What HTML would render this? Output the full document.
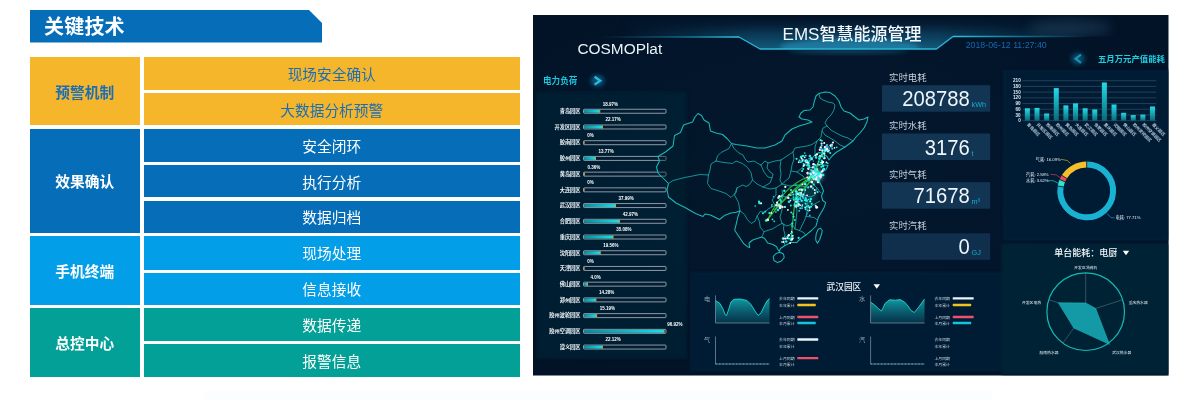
<!DOCTYPE html>
<html lang="zh"><head><meta charset="utf-8"><title>关键技术</title>
<style>
html,body{margin:0;padding:0;background:#fff;}
body{width:1196px;height:400px;position:relative;overflow:hidden;font-family:"Liberation Sans","Noto Sans CJK SC",sans-serif;}
.hd{position:absolute;left:30px;top:10px;width:292px;height:32.5px;background:#066EB8;clip-path:polygon(0 0,279px 0,292px 13px,292px 100%,0 100%);color:#fff;font-weight:700;font-size:20px;line-height:34px;box-sizing:border-box;padding-left:14px;letter-spacing:0.2px}
.c{position:absolute;display:flex;align-items:center;justify-content:center;font-size:14.7px;white-space:nowrap}
.l{left:30px;width:109.5px;font-weight:700}
.r{left:144px;width:375.5px}
.y{background:#F6B62C;color:#1A6EB6}
.b{background:#066EB8;color:#fff}
.s{background:#029EE8;color:#fff}
.g{background:#02A096;color:#fff}
svg{position:absolute;left:533px;top:15px;filter:blur(0.35px)}
</style></head><body>
<div class="hd">关键技术</div>
<div style="position:absolute;left:204px;top:391px;width:788px;height:9px;background:#FCFDFE"></div>

<div class="c l y" style="top:57px;height:68px">预警机制</div>
<div class="c l b" style="top:128.5px;height:104.0px">效果确认</div>
<div class="c l s" style="top:236px;height:69px">手机终端</div>
<div class="c l g" style="top:308px;height:68.5px">总控中心</div>
<div class="c r y" style="top:57px;height:32.5px">现场安全确认</div>
<div class="c r y" style="top:93px;height:32px">大数据分析预警</div>
<div class="c r b" style="top:128.5px;height:33.0px">安全闭环</div>
<div class="c r b" style="top:165px;height:32px">执行分析</div>
<div class="c r b" style="top:200.5px;height:32.0px">数据归档</div>
<div class="c r s" style="top:236px;height:33.5px">现场处理</div>
<div class="c r s" style="top:272.5px;height:32.5px">信息接收</div>
<div class="c r g" style="top:308px;height:32.5px">数据传递</div>
<div class="c r g" style="top:344px;height:32.5px">报警信息</div>
<svg width="635.5" height="360.5" viewBox="533 15 635.5 360.5" font-family="Liberation Sans, Noto Sans CJK SC, sans-serif">
<defs>
<radialGradient id="bgG" cx="0.45" cy="0.45" r="0.75"><stop offset="0" stop-color="#03182E"/><stop offset="1" stop-color="#021226"/></radialGradient>
<linearGradient id="hdG" x1="0" y1="15" x2="0" y2="49" gradientUnits="userSpaceOnUse"><stop offset="0" stop-color="#04182E" stop-opacity="0"/><stop offset="0.5" stop-color="#0A3450"/><stop offset="1" stop-color="#125A7C"/></linearGradient>
<radialGradient id="hdGlow" cx="0.5" cy="1" r="0.6" gradientTransform="translate(0 0) scale(1 1)"><stop offset="0" stop-color="#1E86B0" stop-opacity="0.9"/><stop offset="1" stop-color="#0B3A5C" stop-opacity="0"/></radialGradient>
<linearGradient id="lineL" x1="600" y1="0" x2="739" y2="0" gradientUnits="userSpaceOnUse"><stop offset="0" stop-color="#1AA6C8" stop-opacity="0"/><stop offset="0.55" stop-color="#1AA6C8" stop-opacity="0.5"/><stop offset="1" stop-color="#2CC4E0" stop-opacity="1"/></linearGradient>
<linearGradient id="lineR" x1="953" y1="0" x2="1090" y2="0" gradientUnits="userSpaceOnUse"><stop offset="0" stop-color="#2CC4E0" stop-opacity="1"/><stop offset="0.6" stop-color="#1AA6C8" stop-opacity="0.5"/><stop offset="1" stop-color="#1AA6C8" stop-opacity="0"/></linearGradient>
<linearGradient id="barG" x1="0" y1="0" x2="0" y2="1"><stop offset="0" stop-color="#22DCEA"/><stop offset="1" stop-color="#0A6878"/></linearGradient>
<linearGradient id="fillG" x1="0" y1="0" x2="1" y2="0"><stop offset="0" stop-color="#0E8A9A"/><stop offset="1" stop-color="#16E0EA"/></linearGradient>
<linearGradient id="areaG" x1="0" y1="0" x2="0" y2="1"><stop offset="0" stop-color="#13A4AA" stop-opacity="0.95"/><stop offset="1" stop-color="#0A4E64" stop-opacity="0.5"/></linearGradient>
<linearGradient id="hdMg" x1="620" y1="0" x2="1090" y2="0" gradientUnits="userSpaceOnUse"><stop offset="0" stop-color="#000"/><stop offset="0.28" stop-color="#fff"/><stop offset="0.68" stop-color="#fff"/><stop offset="1" stop-color="#000"/></linearGradient>
<mask id="hdM" maskUnits="userSpaceOnUse" x="533" y="15" width="636" height="40"><rect x="533" y="15" width="636" height="40" fill="url(#hdMg)"/></mask>
<clipPath id="hdC"><path d="M533,15 L1168.5,15 L1168.5,36.5 L953,36.5 L936.5,49 L760,49 L739,37 L533,37 Z"/></clipPath>
<filter id="pb" x="-5%" y="-5%" width="110%" height="110%"><feGaussianBlur stdDeviation="1.6"/></filter>
<filter id="db" x="-5%" y="-5%" width="110%" height="110%"><feGaussianBlur stdDeviation="0.32"/></filter>
<filter id="glow2" x="-50%" y="-100%" width="200%" height="300%"><feGaussianBlur stdDeviation="6"/></filter>
<filter id="glow" x="-50%" y="-50%" width="200%" height="200%"><feGaussianBlur stdDeviation="2.2"/></filter>
<filter id="soft" x="-20%" y="-20%" width="140%" height="140%"><feGaussianBlur stdDeviation="0.5"/></filter>
</defs>
<rect x="533" y="15" width="635.5" height="360.5" fill="url(#bgG)"/>
<path d="M533,15 L1168.5,15 L1168.5,36.5 L953,36.5 L936.5,49 L760,49 L739,37 L533,37 Z" fill="url(#hdG)" mask="url(#hdM)"/>
<ellipse cx="850" cy="47" rx="70" ry="9" fill="#2A9CC8" opacity="0.5" filter="url(#glow)" clip-path="url(#hdC)"/>
<ellipse cx="1070" cy="28" rx="42" ry="9" fill="#3A6A8A" opacity="0.3" filter="url(#glow2)" clip-path="url(#hdC)"/>
<path d="M600,37 L739,37" stroke="url(#lineL)" stroke-width="1.3" fill="none"/>
<path d="M739,37 L760,49 L936.5,49 L953,36.5" stroke="#28B8DA" stroke-width="1.3" fill="none" stroke-linejoin="round"/>
<path d="M800,49 L900,49" stroke="#7FE4F8" stroke-width="1.2" opacity="0.8" filter="url(#soft)"/>
<ellipse cx="848" cy="51.5" rx="60" ry="2.2" fill="#2A9CC8" opacity="0.35" filter="url(#glow)"/>
<path d="M953,36.5 L1090,36.5" stroke="url(#lineR)" stroke-width="1.3" fill="none"/>
<text x="577.5" y="54" font-size="15.4" fill="#EAF2F8">COSMOPlat</text>
<text x="852" y="40" font-size="17" fill="#F2F8FC" text-anchor="middle" font-weight="500">EMS智慧能源管理</text>
<text x="965.7" y="47.5" font-size="8.8" fill="#1668B0">2018-06-12 11:27:40</text>
<rect x="536.5" y="92" width="150" height="266.5" fill="#022036" opacity="0.75" filter="url(#pb)"/>
<text x="543" y="84" font-size="8.6" fill="#19C6DC" font-weight="700">电力负荷</text>
<ellipse cx="597.5" cy="80.7" rx="7" ry="6" fill="#0F78A8" opacity="0.6" filter="url(#glow)"/>
<path d="M594.6,76.8 L600.2,80.7 L594.6,84.6" stroke="#26BEDC" stroke-width="2.3" fill="none" filter="url(#soft)"/>
<text x="580.5" y="113.05" font-size="5.2" fill="#F0F6FA" text-anchor="end" font-weight="700">青岛园区</text>
<rect x="583.5" y="109.25" width="82.5" height="4" rx="0.8" fill="#061C30" stroke="#A8BAC8" stroke-width="0.8"/>
<rect x="584" y="109.75" width="15.65" height="3" fill="url(#fillG)"/>
<rect x="599.35" y="109.65" width="0.9" height="3.2" fill="#E8A020"/>
<text x="602.85" y="105.65" font-size="4.5" fill="#FFFFFF" font-weight="700">18.97%</text>
<text x="580.5" y="128.77" font-size="5.2" fill="#F0F6FA" text-anchor="end" font-weight="700">开发区园区</text>
<rect x="583.5" y="124.97" width="82.5" height="4" rx="0.8" fill="#061C30" stroke="#A8BAC8" stroke-width="0.8"/>
<rect x="584" y="125.47" width="18.29" height="3" fill="url(#fillG)"/>
<rect x="601.99" y="125.37" width="0.9" height="3.2" fill="#E8A020"/>
<text x="605.49" y="121.37" font-size="4.5" fill="#FFFFFF" font-weight="700">22.17%</text>
<text x="580.5" y="144.49" font-size="5.2" fill="#F0F6FA" text-anchor="end" font-weight="700">胶南园区</text>
<rect x="583.5" y="140.69" width="82.5" height="4" rx="0.8" fill="#061C30" stroke="#A8BAC8" stroke-width="0.8"/>
<rect x="583.70" y="141.09" width="0.9" height="3.2" fill="#E8A020"/>
<text x="587.20" y="137.09" font-size="4.5" fill="#FFFFFF" font-weight="700">0%</text>
<text x="580.5" y="160.21" font-size="5.2" fill="#F0F6FA" text-anchor="end" font-weight="700">胶州园区</text>
<rect x="583.5" y="156.41" width="82.5" height="4" rx="0.8" fill="#061C30" stroke="#A8BAC8" stroke-width="0.8"/>
<rect x="584" y="156.91" width="11.36" height="3" fill="url(#fillG)"/>
<rect x="595.06" y="156.81" width="0.9" height="3.2" fill="#E8A020"/>
<text x="598.56" y="152.81" font-size="4.5" fill="#FFFFFF" font-weight="700">13.77%</text>
<text x="580.5" y="175.93" font-size="5.2" fill="#F0F6FA" text-anchor="end" font-weight="700">黄岛园区</text>
<rect x="583.5" y="172.13" width="82.5" height="4" rx="0.8" fill="#061C30" stroke="#A8BAC8" stroke-width="0.8"/>
<rect x="584.00" y="172.53" width="0.9" height="3.2" fill="#E8A020"/>
<text x="587.50" y="168.53" font-size="4.5" fill="#FFFFFF" font-weight="700">0.36%</text>
<text x="580.5" y="191.65" font-size="5.2" fill="#F0F6FA" text-anchor="end" font-weight="700">大连园区</text>
<rect x="583.5" y="187.85" width="82.5" height="4" rx="0.8" fill="#061C30" stroke="#A8BAC8" stroke-width="0.8"/>
<rect x="583.70" y="188.25" width="0.9" height="3.2" fill="#E8A020"/>
<text x="587.20" y="184.25" font-size="4.5" fill="#FFFFFF" font-weight="700">0%</text>
<text x="580.5" y="207.37" font-size="5.2" fill="#F0F6FA" text-anchor="end" font-weight="700">武汉园区</text>
<rect x="583.5" y="203.57" width="82.5" height="4" rx="0.8" fill="#061C30" stroke="#A8BAC8" stroke-width="0.8"/>
<rect x="584" y="204.07" width="31.34" height="3" fill="url(#fillG)"/>
<rect x="615.04" y="203.97" width="0.9" height="3.2" fill="#E8A020"/>
<text x="618.54" y="199.97" font-size="4.5" fill="#FFFFFF" font-weight="700">37.99%</text>
<text x="580.5" y="223.09" font-size="5.2" fill="#F0F6FA" text-anchor="end" font-weight="700">合肥园区</text>
<rect x="583.5" y="219.29" width="82.5" height="4" rx="0.8" fill="#061C30" stroke="#A8BAC8" stroke-width="0.8"/>
<rect x="584" y="219.79" width="35.45" height="3" fill="url(#fillG)"/>
<rect x="619.15" y="219.69" width="0.9" height="3.2" fill="#E8A020"/>
<text x="622.65" y="215.69" font-size="4.5" fill="#FFFFFF" font-weight="700">42.97%</text>
<text x="580.5" y="238.81" font-size="5.2" fill="#F0F6FA" text-anchor="end" font-weight="700">重庆园区</text>
<rect x="583.5" y="235.01" width="82.5" height="4" rx="0.8" fill="#061C30" stroke="#A8BAC8" stroke-width="0.8"/>
<rect x="584" y="235.51" width="28.94" height="3" fill="url(#fillG)"/>
<rect x="612.64" y="235.41" width="0.9" height="3.2" fill="#E8A020"/>
<text x="616.14" y="231.41" font-size="4.5" fill="#FFFFFF" font-weight="700">35.08%</text>
<text x="580.5" y="254.53" font-size="5.2" fill="#F0F6FA" text-anchor="end" font-weight="700">沈阳园区</text>
<rect x="583.5" y="250.73" width="82.5" height="4" rx="0.8" fill="#061C30" stroke="#A8BAC8" stroke-width="0.8"/>
<rect x="584" y="251.23" width="16.14" height="3" fill="url(#fillG)"/>
<rect x="599.84" y="251.13" width="0.9" height="3.2" fill="#E8A020"/>
<text x="603.34" y="247.13" font-size="4.5" fill="#FFFFFF" font-weight="700">19.56%</text>
<text x="580.5" y="270.25" font-size="5.2" fill="#F0F6FA" text-anchor="end" font-weight="700">天津园区</text>
<rect x="583.5" y="266.45" width="82.5" height="4" rx="0.8" fill="#061C30" stroke="#A8BAC8" stroke-width="0.8"/>
<rect x="583.70" y="266.85" width="0.9" height="3.2" fill="#E8A020"/>
<text x="587.20" y="262.85" font-size="4.5" fill="#FFFFFF" font-weight="700">0%</text>
<text x="580.5" y="285.97" font-size="5.2" fill="#F0F6FA" text-anchor="end" font-weight="700">佛山园区</text>
<rect x="583.5" y="282.17" width="82.5" height="4" rx="0.8" fill="#061C30" stroke="#A8BAC8" stroke-width="0.8"/>
<rect x="584" y="282.67" width="3.30" height="3" fill="url(#fillG)"/>
<rect x="587.00" y="282.57" width="0.9" height="3.2" fill="#E8A020"/>
<text x="590.50" y="278.57" font-size="4.5" fill="#FFFFFF" font-weight="700">4.0%</text>
<text x="580.5" y="301.69" font-size="5.2" fill="#F0F6FA" text-anchor="end" font-weight="700">郑州园区</text>
<rect x="583.5" y="297.89" width="82.5" height="4" rx="0.8" fill="#061C30" stroke="#A8BAC8" stroke-width="0.8"/>
<rect x="584" y="298.39" width="11.78" height="3" fill="url(#fillG)"/>
<rect x="595.48" y="298.29" width="0.9" height="3.2" fill="#E8A020"/>
<text x="598.98" y="294.29" font-size="4.5" fill="#FFFFFF" font-weight="700">14.28%</text>
<text x="580.5" y="317.41" font-size="5.2" fill="#F0F6FA" text-anchor="end" font-weight="700">胶州波轮园区</text>
<rect x="583.5" y="313.61" width="82.5" height="4" rx="0.8" fill="#061C30" stroke="#A8BAC8" stroke-width="0.8"/>
<rect x="584" y="314.11" width="12.53" height="3" fill="url(#fillG)"/>
<rect x="596.23" y="314.01" width="0.9" height="3.2" fill="#E8A020"/>
<text x="599.73" y="310.01" font-size="4.5" fill="#FFFFFF" font-weight="700">15.19%</text>
<text x="580.5" y="333.13" font-size="5.2" fill="#F0F6FA" text-anchor="end" font-weight="700">胶州空调园区</text>
<rect x="583.5" y="329.33" width="82.5" height="4" rx="0.8" fill="#061C30" stroke="#A8BAC8" stroke-width="0.8"/>
<rect x="584" y="329.83" width="79.96" height="3" fill="url(#fillG)"/>
<rect x="663.66" y="329.73" width="0.9" height="3.2" fill="#E8A020"/>
<text x="667.16" y="325.73" font-size="4.5" fill="#FFFFFF" font-weight="700">96.92%</text>
<text x="580.5" y="348.85" font-size="5.2" fill="#F0F6FA" text-anchor="end" font-weight="700">遵义园区</text>
<rect x="583.5" y="345.05" width="82.5" height="4" rx="0.8" fill="#061C30" stroke="#A8BAC8" stroke-width="0.8"/>
<rect x="584" y="345.55" width="18.25" height="3" fill="url(#fillG)"/>
<rect x="601.95" y="345.45" width="0.9" height="3.2" fill="#E8A020"/>
<text x="605.45" y="341.45" font-size="4.5" fill="#FFFFFF" font-weight="700">22.12%</text>
<g fill="none" stroke="#1AB8B8" stroke-width="1.05" stroke-linejoin="round" stroke-linecap="round">
<polygon points="698,113.5 701.5,115.5 704,120 709,123 710.5,131 716,133 722.5,134.5 727.5,139 731.5,143.5 736,144.5 747,146 757,148 765,148 775,145 782,141 785,135 792,129 799,126 806,124 812,122 808,120 802,119 799,117 801,113 804,110.6 810,110 813,107 814.4,101 816,96 819,93.4 825,92 830,92.6 835,96 839,101 841,107 844,111 850,113 855,117 859,120 864,119 868,117 867,122 864,128 860,133 856,137 853,141 849,144 845,147 840,150 836,152.5 832,156 829,160 827,156.5 823,153.5 819,152.5 815,155 811,159.5 808,163.5 810,167.5 815,167 821,164.5 828,165.5 826,169.5 821,172.5 818,177 819.5,182 822,187 823.5,191 821.5,196 822.7,200.5 825.7,202.7 824.2,207.2 821.2,212.5 818.2,217.7 817.5,220.7 816,226 811.5,230.5 807,234.2 802.5,237.2 798,241 797,242.5 791,242.5 785,245.5 780.5,248.5 779.3,251.5 777.5,249 776.7,246.7 773,244.5 767.7,243 764.7,238.5 761.7,237 757.2,238.5 752.7,240 749,243 749.7,247.5 747.5,246.7 743.7,243.7 740.7,239.2 737.7,234.7 734.7,230.2 736.2,224.2 737.7,217.5 740,210.7 736.2,212.2 731,213 725,215.2 719.5,219.5 710.5,215 705,214 703,216.5 695.5,213.5 685,207.5 676,203 668.5,197 667,189.5 668.5,183.5 664,179 658,173 656.5,167 659.5,161 658,156.5 665.5,152 673,146 674.5,135.5 680.5,132.5 683.5,125 692.5,122 695,117" fill="#041626" fill-opacity="0.35"/>
<polyline points="731.5,143.5 729,148.5 721,152.5 717.5,156 716,161" stroke-width="0.85" stroke="#18A8AC"/>
<polyline points="716,161 711,164 710,170 708.5,175" stroke-width="0.85" stroke="#18A8AC"/>
<polyline points="708.5,175 700,174.5 685,177.5 673,180.5 668.5,183.5" stroke-width="0.85" stroke="#18A8AC"/>
<polyline points="708.5,175 707.5,183.5 711,188.5 719,191 726,193.5 731,197.5 736,192.5 737,188" stroke-width="0.85" stroke="#18A8AC"/>
<polyline points="737,188 734.5,195 738.5,202.5 740,210.7" stroke-width="0.85" stroke="#18A8AC"/>
<polyline points="716,161 724,162.5 732.5,163.5 736,161 742.5,163.5 747.5,167.5 751,172.5 752.5,180 749,185 746,186.5 742.5,185 737,188" stroke-width="0.85" stroke="#18A8AC"/>
<polyline points="731.5,143.5 734,148.5 739,153 743,155 745,159 748,162 754,161 757,163 761,165" stroke-width="0.85" stroke="#18A8AC"/>
<polyline points="761,165 765,161 768,163 767,168 770,172 773,174 772,178 768,177 764,172 761,165" stroke-width="0.85" stroke="#18A8AC"/>
<polyline points="768,163 775,161 781,160 787,156 793,152 795,148 801,147 807,146 812,144.5 817,141 821,137 822,131 823,128 827,126" stroke-width="0.85" stroke="#18A8AC"/>
<polyline points="819,93.4 820,98 823,100 828,102 833,103 835,105 834,110 831,115 827,119 825,123 827,126" stroke-width="0.85" stroke="#18A8AC"/>
<polyline points="827,126 831,130 836,133 842,136 848,138 853,141" stroke-width="0.85" stroke="#18A8AC"/>
<polyline points="822,131 825,135 830,138 835,141 840,145 845,147" stroke-width="0.85" stroke="#18A8AC"/>
<polyline points="817,141 815,147 815,155" stroke-width="0.85" stroke="#18A8AC"/>
<polyline points="781,160 780,167 781,174 780,180 782,184" stroke-width="0.85" stroke="#18A8AC"/>
<polyline points="793,152 794,159 792,165 791,171 789,178 782,184" stroke-width="0.85" stroke="#18A8AC"/>
<polyline points="811,159.5 806,163 802,168 797,172 791,171" stroke-width="0.85" stroke="#18A8AC"/>
<polyline points="752.5,180 757,184 763,187 770,189 776,188 782,184" stroke-width="0.85" stroke="#18A8AC"/>
<polyline points="772,178 770,183 763,187" stroke-width="0.85" stroke="#18A8AC"/>
<polyline points="782,184 790,186 798,185 806,187" stroke-width="0.85" stroke="#18A8AC"/>
<polyline points="797,172 803,176 806,181 806,187" stroke-width="0.85" stroke="#18A8AC"/>
<polyline points="806,181 812,183 817,188 821,193" stroke-width="0.85" stroke="#18A8AC"/>
<polyline points="776,188 776,195 772,200 775,205 781,203 783,196 782,190" stroke-width="0.85" stroke="#18A8AC"/>
<polyline points="740,210.7 744.5,214.5 747.5,219.7 751.2,223.5 755,221.2 757.2,216 760.2,211.5 765,212.5" stroke-width="0.85" stroke="#18A8AC"/>
<polyline points="765,212.5 768,209 772,207 775,205" stroke-width="0.85" stroke="#18A8AC"/>
<polyline points="757.2,216 759.5,222 760.2,227.2 764,231.7 762.5,235.5 761.7,237" stroke-width="0.85" stroke="#18A8AC"/>
<polyline points="781,203 782,210 780,217 782,223.5" stroke-width="0.85" stroke="#18A8AC"/>
<polyline points="764,231.7 768.5,230.2 773,228.7 777.5,225.7 782,223.5" stroke-width="0.85" stroke="#18A8AC"/>
<polyline points="782,223.5 787,226 792,224 795,229" stroke-width="0.85" stroke="#18A8AC"/>
<polyline points="782,223.5 784,224.5 783.5,229 785,235 783.5,239.5 785,245.5" stroke-width="0.85" stroke="#18A8AC"/>
<polyline points="795,229 796,220 797,211 796,204 798,198" stroke-width="0.85" stroke="#18A8AC"/>
<polyline points="783,196 790,199 798,198" stroke-width="0.85" stroke="#18A8AC"/>
<polyline points="798,198 804,195 806,187" stroke-width="0.85" stroke="#18A8AC"/>
<polyline points="804,195 808,202 806.2,216.2" stroke-width="0.85" stroke="#18A8AC"/>
<polyline points="799.5,230.5 795,229" stroke-width="0.85" stroke="#18A8AC"/>
<polyline points="804,195 810,197 815,195 817,188" stroke-width="0.85" stroke="#18A8AC"/>
<polyline points="817.5,220.5 814.5,217.7 806.2,216.2" stroke-width="0.85" stroke="#18A8AC"/>
<polyline points="806.2,216.2 810,208 813,205 819.7,201.2" stroke-width="0.85" stroke="#18A8AC"/>
<polyline points="806.2,216.2 804,221.5 801,227.5 799.5,230.5" stroke-width="0.85" stroke="#18A8AC"/>
<polyline points="799.5,230.5 804,232.7 805.5,235" stroke-width="0.85" stroke="#18A8AC"/>
<polygon points="820.5,228.2 822.3,230.5 821.7,233.5 819.7,239.5 817.5,243.2 815.9,240.5 815.7,238 816.3,233.5 818.2,229.3"/>
<polygon points="776,253.5 780,252.3 783.5,254 784.2,257.5 781.5,261 777.5,262.6 774,260.5 773.2,256.5"/>
</g>
<circle cx="816" cy="175" r="7" fill="#9FF5F0" opacity="0.55" filter="url(#glow)"/>
<circle cx="805" cy="195" r="12" fill="#22C8C8" opacity="0.18" filter="url(#glow)"/>
<g fill="none" stroke="#2ECC3C" stroke-width="1.25" opacity="0.9">
<path d="M816,175 Q786,180 767.7,219.7"/>
<path d="M816,175 Q794,184 767.7,219.7"/>
<path d="M816,175 Q800,184 774,210"/>
<path d="M816,175 Q804,188 795,200 L791,239"/>
<path d="M816,175 Q816,160 826,150"/>
</g>
<g filter="url(#db)">
<circle cx="811.6" cy="176.3" r="1.1" fill="#FFFFFF"/>
<circle cx="811.2" cy="174.8" r="0.9" fill="#FFFFFF"/>
<circle cx="811.1" cy="175.7" r="0.9" fill="#22F0E2"/>
<circle cx="814.1" cy="175.6" r="1.25" fill="#8CF6E6"/>
<circle cx="812.8" cy="171.6" r="1.1" fill="#FFFFFF"/>
<circle cx="813.2" cy="171.1" r="0.9" fill="#F4E6F0"/>
<circle cx="820.4" cy="175.4" r="0.8" fill="#22F0E2"/>
<circle cx="817.0" cy="177.4" r="0.8" fill="#FFFFFF"/>
<circle cx="813.8" cy="179.0" r="0.9" fill="#FFFFFF"/>
<circle cx="816.3" cy="177.8" r="0.8" fill="#3D9BFF"/>
<circle cx="820.5" cy="177.5" r="1.1" fill="#FFFFFF"/>
<circle cx="822.9" cy="174.8" r="1.0" fill="#22F0E2"/>
<circle cx="816.2" cy="170.9" r="0.8" fill="#22F0E2"/>
<circle cx="814.4" cy="174.4" r="0.8" fill="#22F0E2"/>
<circle cx="809.1" cy="180.6" r="0.8" fill="#22F0E2"/>
<circle cx="818.0" cy="182.2" r="1.1" fill="#FFFFFF"/>
<circle cx="819.6" cy="174.6" r="0.8" fill="#F4E6F0"/>
<circle cx="811.7" cy="170.7" r="1.0" fill="#22F0E2"/>
<circle cx="818.8" cy="176.6" r="1.1" fill="#22F0E2"/>
<circle cx="819.7" cy="179.0" r="0.8" fill="#22F0E2"/>
<circle cx="811.9" cy="175.9" r="1.25" fill="#22F0E2"/>
<circle cx="813.8" cy="175.7" r="0.9" fill="#FFFFFF"/>
<circle cx="814.9" cy="173.7" r="1.1" fill="#22F0E2"/>
<circle cx="823.2" cy="175.0" r="1.25" fill="#22F0E2"/>
<circle cx="816.7" cy="175.0" r="0.9" fill="#FFFFFF"/>
<circle cx="820.9" cy="174.9" r="1.25" fill="#22F0E2"/>
<circle cx="818.0" cy="175.5" r="1.1" fill="#22F0E2"/>
<circle cx="820.9" cy="175.3" r="1.0" fill="#FFFFFF"/>
<circle cx="817.4" cy="175.7" r="1.25" fill="#3D9BFF"/>
<circle cx="816.2" cy="179.6" r="1.0" fill="#F4E6F0"/>
<circle cx="807.3" cy="177.5" r="1.1" fill="#F4E6F0"/>
<circle cx="818.3" cy="177.5" r="0.9" fill="#22F0E2"/>
<circle cx="821.6" cy="171.6" r="0.9" fill="#8CF6E6"/>
<circle cx="818.2" cy="180.2" r="1.25" fill="#22F0E2"/>
<circle cx="814.6" cy="171.9" r="1.1" fill="#F4E6F0"/>
<circle cx="817.0" cy="175.5" r="0.8" fill="#22F0E2"/>
<circle cx="813.2" cy="174.8" r="1.1" fill="#22F0E2"/>
<circle cx="809.1" cy="178.5" r="1.1" fill="#22F0E2"/>
<circle cx="807.8" cy="174.0" r="0.8" fill="#22F0E2"/>
<circle cx="816.6" cy="179.3" r="1.25" fill="#F4E6F0"/>
<circle cx="818.2" cy="176.1" r="0.9" fill="#8CF6E6"/>
<circle cx="818.8" cy="175.3" r="1.1" fill="#22F0E2"/>
<circle cx="818.1" cy="175.8" r="1.0" fill="#FFFFFF"/>
<circle cx="814.3" cy="174.2" r="1.0" fill="#22F0E2"/>
<circle cx="823.8" cy="169.0" r="1.25" fill="#F4E6F0"/>
<circle cx="820.5" cy="173.5" r="0.8" fill="#FFFFFF"/>
<circle cx="820.7" cy="172.2" r="0.8" fill="#22F0E2"/>
<circle cx="814.8" cy="174.2" r="0.8" fill="#8CF6E6"/>
<circle cx="815.3" cy="176.7" r="0.8" fill="#22F0E2"/>
<circle cx="812.7" cy="175.9" r="0.8" fill="#8CF6E6"/>
<circle cx="815.8" cy="173.2" r="1.0" fill="#22F0E2"/>
<circle cx="819.5" cy="177.0" r="0.8" fill="#FFFFFF"/>
<circle cx="816.8" cy="174.7" r="1.1" fill="#F4E6F0"/>
<circle cx="821.3" cy="175.5" r="1.1" fill="#F4E6F0"/>
<circle cx="817.4" cy="175.1" r="0.8" fill="#3D9BFF"/>
<circle cx="818.1" cy="176.7" r="1.1" fill="#8CF6E6"/>
<circle cx="811.9" cy="181.9" r="1.25" fill="#FFFFFF"/>
<circle cx="809.6" cy="177.4" r="0.8" fill="#FFFFFF"/>
<circle cx="816.0" cy="174.2" r="1.25" fill="#22F0E2"/>
<circle cx="813.4" cy="175.3" r="0.8" fill="#FFFFFF"/>
<circle cx="817.0" cy="170.1" r="1.1" fill="#22F0E2"/>
<circle cx="818.7" cy="173.0" r="0.9" fill="#3D9BFF"/>
<circle cx="812.7" cy="172.3" r="1.0" fill="#3D9BFF"/>
<circle cx="819.8" cy="173.3" r="0.9" fill="#22F0E2"/>
<circle cx="813.7" cy="176.5" r="1.1" fill="#22F0E2"/>
<circle cx="818.6" cy="172.7" r="1.25" fill="#22F0E2"/>
<circle cx="816.5" cy="176.8" r="1.0" fill="#22F0E2"/>
<circle cx="813.9" cy="166.9" r="1.0" fill="#22F0E2"/>
<circle cx="819.1" cy="177.5" r="0.9" fill="#FFFFFF"/>
<circle cx="812.8" cy="177.8" r="1.0" fill="#8CF6E6"/>
<circle cx="821.4" cy="166.8" r="1.1" fill="#22F0E2"/>
<circle cx="816.8" cy="175.4" r="1.25" fill="#22F0E2"/>
<circle cx="814.7" cy="172.5" r="1.0" fill="#22F0E2"/>
<circle cx="813.3" cy="171.5" r="0.9" fill="#FFFFFF"/>
<circle cx="815.2" cy="175.2" r="1.0" fill="#22F0E2"/>
<circle cx="817.2" cy="169.0" r="0.8" fill="#FFFFFF"/>
<circle cx="819.5" cy="177.7" r="1.0" fill="#22F0E2"/>
<circle cx="815.0" cy="172.9" r="1.1" fill="#22F0E2"/>
<circle cx="816.2" cy="175.5" r="1.1" fill="#FFFFFF"/>
<circle cx="815.5" cy="172.9" r="1.0" fill="#22F0E2"/>
<circle cx="807.5" cy="173.0" r="1.25" fill="#F4E6F0"/>
<circle cx="818.1" cy="175.0" r="0.9" fill="#22F0E2"/>
<circle cx="809.6" cy="178.8" r="1.1" fill="#22F0E2"/>
<circle cx="813.7" cy="175.7" r="0.8" fill="#FFFFFF"/>
<circle cx="811.0" cy="173.5" r="1.25" fill="#22F0E2"/>
<circle cx="810.9" cy="176.1" r="0.9" fill="#22F0E2"/>
<circle cx="814.8" cy="168.8" r="0.8" fill="#22F0E2"/>
<circle cx="816.2" cy="178.4" r="0.8" fill="#22F0E2"/>
<circle cx="809.8" cy="173.6" r="1.0" fill="#22F0E2"/>
<circle cx="822.0" cy="171.4" r="1.0" fill="#FFFFFF"/>
<circle cx="819.4" cy="176.8" r="1.25" fill="#FFFFFF"/>
<circle cx="816.5" cy="171.1" r="0.8" fill="#22F0E2"/>
<circle cx="816.5" cy="173.8" r="0.8" fill="#22F0E2"/>
<circle cx="810.6" cy="173.9" r="0.9" fill="#FFFFFF"/>
<circle cx="818.6" cy="178.3" r="1.25" fill="#3D9BFF"/>
<circle cx="812.8" cy="167.4" r="1.1" fill="#F4E6F0"/>
<circle cx="817.4" cy="174.5" r="0.9" fill="#FFFFFF"/>
<circle cx="813.1" cy="174.5" r="1.25" fill="#3D9BFF"/>
<circle cx="818.2" cy="178.5" r="1.25" fill="#22F0E2"/>
<circle cx="814.7" cy="178.1" r="1.25" fill="#22F0E2"/>
<circle cx="815.3" cy="176.8" r="1.25" fill="#FFFFFF"/>
<circle cx="815.4" cy="178.9" r="1.1" fill="#FFFFFF"/>
<circle cx="816.3" cy="175.2" r="1.1" fill="#22F0E2"/>
<circle cx="815.0" cy="174.8" r="1.1" fill="#FFFFFF"/>
<circle cx="817.5" cy="170.8" r="1.1" fill="#22F0E2"/>
<circle cx="815.5" cy="173.8" r="1.25" fill="#FFFFFF"/>
<circle cx="808.3" cy="179.4" r="1.1" fill="#22F0E2"/>
<circle cx="816.1" cy="179.0" r="1.0" fill="#FFFFFF"/>
<circle cx="822.9" cy="170.4" r="1.1" fill="#FFFFFF"/>
<circle cx="815.0" cy="177.0" r="1.25" fill="#22F0E2"/>
<circle cx="817.7" cy="174.2" r="0.8" fill="#22F0E2"/>
<circle cx="816.9" cy="177.3" r="1.0" fill="#22F0E2"/>
<circle cx="815.6" cy="172.5" r="1.1" fill="#22F0E2"/>
<circle cx="811.2" cy="175.0" r="1.25" fill="#F4E6F0"/>
<circle cx="816.0" cy="177.3" r="1.25" fill="#FFFFFF"/>
<circle cx="821.0" cy="175.7" r="1.25" fill="#F4E6F0"/>
<circle cx="817.3" cy="176.9" r="1.25" fill="#3D9BFF"/>
<circle cx="816.5" cy="177.3" r="1.25" fill="#F4E6F0"/>
<circle cx="814.3" cy="174.0" r="1.0" fill="#22F0E2"/>
<circle cx="814.7" cy="177.7" r="0.9" fill="#22F0E2"/>
<circle cx="826.5" cy="145.7" r="0.8" fill="#22F0E2"/>
<circle cx="827.8" cy="146.8" r="0.8" fill="#22F0E2"/>
<circle cx="822.3" cy="150.5" r="1.1" fill="#FFFFFF"/>
<circle cx="826.6" cy="146.2" r="1.1" fill="#3D9BFF"/>
<circle cx="825.7" cy="147.4" r="0.9" fill="#F4E6F0"/>
<circle cx="821.9" cy="140.8" r="1.0" fill="#22F0E2"/>
<circle cx="824.2" cy="143.1" r="1.0" fill="#FFFFFF"/>
<circle cx="834.5" cy="147.9" r="0.8" fill="#FFFFFF"/>
<circle cx="827.0" cy="148.6" r="1.25" fill="#F4E6F0"/>
<circle cx="820.2" cy="147.6" r="0.9" fill="#22F0E2"/>
<circle cx="827.2" cy="150.2" r="0.9" fill="#22F0E2"/>
<circle cx="827.8" cy="147.3" r="0.8" fill="#22F0E2"/>
<circle cx="830.8" cy="146.8" r="0.8" fill="#22F0E2"/>
<circle cx="822.3" cy="150.4" r="1.0" fill="#FFFFFF"/>
<circle cx="827.1" cy="151.4" r="0.8" fill="#22F0E2"/>
<circle cx="828.1" cy="151.6" r="1.0" fill="#FFFFFF"/>
<circle cx="831.4" cy="145.7" r="0.8" fill="#FFFFFF"/>
<circle cx="827.0" cy="144.9" r="0.8" fill="#8CF6E6"/>
<circle cx="833.0" cy="142.5" r="1.1" fill="#F4E6F0"/>
<circle cx="821.7" cy="145.5" r="1.0" fill="#22F0E2"/>
<circle cx="825.6" cy="149.8" r="0.9" fill="#FFFFFF"/>
<circle cx="828.7" cy="150.4" r="1.25" fill="#8CF6E6"/>
<circle cx="822.7" cy="150.8" r="0.9" fill="#FFFFFF"/>
<circle cx="826.8" cy="150.2" r="1.0" fill="#22F0E2"/>
<circle cx="825.4" cy="148.1" r="1.0" fill="#3D9BFF"/>
<circle cx="827.2" cy="147.3" r="1.0" fill="#3D9BFF"/>
<circle cx="825.1" cy="150.4" r="1.1" fill="#F4E6F0"/>
<circle cx="826.7" cy="149.3" r="1.25" fill="#FFFFFF"/>
<circle cx="821.6" cy="143.6" r="1.1" fill="#F4E6F0"/>
<circle cx="832.2" cy="148.7" r="0.9" fill="#22F0E2"/>
<circle cx="821.0" cy="149.5" r="0.9" fill="#3D9BFF"/>
<circle cx="824.5" cy="149.2" r="1.0" fill="#22F0E2"/>
<circle cx="830.7" cy="145.5" r="1.25" fill="#FFFFFF"/>
<circle cx="831.7" cy="147.0" r="0.8" fill="#3D9BFF"/>
<circle cx="819.9" cy="149.8" r="1.25" fill="#F4E6F0"/>
<circle cx="820.5" cy="140.2" r="1.1" fill="#22F0E2"/>
<circle cx="817.0" cy="154.3" r="1.1" fill="#FFFFFF"/>
<circle cx="824.8" cy="147.2" r="1.1" fill="#FFFFFF"/>
<circle cx="825.0" cy="151.5" r="1.0" fill="#22F0E2"/>
<circle cx="820.9" cy="147.2" r="1.0" fill="#FFFFFF"/>
<circle cx="832.0" cy="145.7" r="1.0" fill="#22F0E2"/>
<circle cx="829.4" cy="148.2" r="0.8" fill="#3D9BFF"/>
<circle cx="830.2" cy="153.0" r="1.1" fill="#22F0E2"/>
<circle cx="832.0" cy="144.4" r="0.8" fill="#F4E6F0"/>
<circle cx="836.8" cy="147.4" r="0.8" fill="#22F0E2"/>
<circle cx="801.3" cy="161.8" r="0.9" fill="#22F0E2"/>
<circle cx="796.6" cy="158.8" r="1.1" fill="#22F0E2"/>
<circle cx="811.6" cy="159.1" r="1.25" fill="#8CF6E6"/>
<circle cx="808.8" cy="163.3" r="1.1" fill="#22F0E2"/>
<circle cx="805.3" cy="161.1" r="1.25" fill="#22F0E2"/>
<circle cx="807.8" cy="162.7" r="1.1" fill="#FFFFFF"/>
<circle cx="800.9" cy="156.9" r="1.1" fill="#22F0E2"/>
<circle cx="805.8" cy="155.6" r="0.9" fill="#22F0E2"/>
<circle cx="804.7" cy="157.4" r="0.8" fill="#FFFFFF"/>
<circle cx="809.9" cy="156.1" r="1.25" fill="#22F0E2"/>
<circle cx="804.2" cy="164.9" r="1.25" fill="#8CF6E6"/>
<circle cx="800.7" cy="157.2" r="0.9" fill="#22F0E2"/>
<circle cx="809.1" cy="158.7" r="0.9" fill="#3D9BFF"/>
<circle cx="806.2" cy="160.3" r="1.0" fill="#22F0E2"/>
<circle cx="800.5" cy="162.3" r="0.8" fill="#22F0E2"/>
<circle cx="803.7" cy="159.6" r="0.8" fill="#3D9BFF"/>
<circle cx="806.4" cy="162.2" r="1.0" fill="#FFFFFF"/>
<circle cx="802.5" cy="160.3" r="1.0" fill="#FFFFFF"/>
<circle cx="804.8" cy="153.1" r="0.8" fill="#22F0E2"/>
<circle cx="798.7" cy="162.2" r="0.9" fill="#FFFFFF"/>
<circle cx="802.5" cy="161.3" r="0.9" fill="#22F0E2"/>
<circle cx="808.9" cy="165.6" r="1.25" fill="#22F0E2"/>
<circle cx="803.5" cy="165.9" r="0.9" fill="#FFFFFF"/>
<circle cx="802.3" cy="156.1" r="1.1" fill="#22F0E2"/>
<circle cx="806.3" cy="160.7" r="1.25" fill="#F4E6F0"/>
<circle cx="799.6" cy="160.5" r="1.0" fill="#22F0E2"/>
<circle cx="807.2" cy="161.1" r="1.25" fill="#22F0E2"/>
<circle cx="803.6" cy="156.0" r="1.0" fill="#22F0E2"/>
<circle cx="823.9" cy="158.3" r="1.0" fill="#22F0E2"/>
<circle cx="824.6" cy="158.2" r="1.1" fill="#F4E6F0"/>
<circle cx="815.6" cy="155.6" r="1.0" fill="#FFFFFF"/>
<circle cx="811.0" cy="157.9" r="1.1" fill="#22F0E2"/>
<circle cx="823.7" cy="169.3" r="1.25" fill="#22F0E2"/>
<circle cx="827.8" cy="163.4" r="0.8" fill="#22F0E2"/>
<circle cx="819.9" cy="155.7" r="0.9" fill="#8CF6E6"/>
<circle cx="816.1" cy="157.5" r="1.25" fill="#22F0E2"/>
<circle cx="824.4" cy="156.0" r="0.9" fill="#22F0E2"/>
<circle cx="822.4" cy="152.6" r="1.0" fill="#22F0E2"/>
<circle cx="822.2" cy="161.2" r="0.9" fill="#F4E6F0"/>
<circle cx="821.8" cy="160.7" r="1.1" fill="#22F0E2"/>
<circle cx="819.3" cy="158.5" r="1.25" fill="#22F0E2"/>
<circle cx="820.5" cy="162.5" r="0.8" fill="#22F0E2"/>
<circle cx="826.4" cy="162.6" r="0.9" fill="#22F0E2"/>
<circle cx="821.9" cy="154.8" r="0.9" fill="#8CF6E6"/>
<circle cx="823.1" cy="166.0" r="1.25" fill="#22F0E2"/>
<circle cx="822.3" cy="156.4" r="1.0" fill="#22F0E2"/>
<circle cx="820.0" cy="156.3" r="1.25" fill="#8CF6E6"/>
<circle cx="826.5" cy="162.2" r="0.8" fill="#FFFFFF"/>
<circle cx="822.5" cy="149.5" r="1.0" fill="#22F0E2"/>
<circle cx="824.3" cy="153.6" r="1.1" fill="#FFFFFF"/>
<circle cx="819.2" cy="156.6" r="0.8" fill="#22F0E2"/>
<circle cx="818.7" cy="161.8" r="0.9" fill="#22F0E2"/>
<circle cx="821.4" cy="149.0" r="1.1" fill="#3D9BFF"/>
<circle cx="823.2" cy="162.1" r="1.1" fill="#FFFFFF"/>
<circle cx="808.5" cy="178.2" r="0.8" fill="#FFFFFF"/>
<circle cx="811.1" cy="169.8" r="0.9" fill="#22F0E2"/>
<circle cx="819.1" cy="164.5" r="0.8" fill="#F4E6F0"/>
<circle cx="803.1" cy="168.9" r="1.0" fill="#22F0E2"/>
<circle cx="813.5" cy="171.6" r="1.25" fill="#22F0E2"/>
<circle cx="807.4" cy="165.3" r="1.25" fill="#22F0E2"/>
<circle cx="802.1" cy="171.0" r="1.1" fill="#22F0E2"/>
<circle cx="822.0" cy="163.0" r="1.25" fill="#FFFFFF"/>
<circle cx="808.1" cy="168.4" r="1.1" fill="#22F0E2"/>
<circle cx="807.4" cy="162.2" r="0.8" fill="#FFFFFF"/>
<circle cx="815.3" cy="164.9" r="0.9" fill="#22F0E2"/>
<circle cx="813.6" cy="164.3" r="1.25" fill="#FFFFFF"/>
<circle cx="813.3" cy="161.0" r="0.8" fill="#3D9BFF"/>
<circle cx="821.4" cy="164.1" r="1.1" fill="#22F0E2"/>
<circle cx="808.4" cy="168.9" r="1.1" fill="#F4E6F0"/>
<circle cx="815.7" cy="165.1" r="1.0" fill="#22F0E2"/>
<circle cx="811.4" cy="176.1" r="1.25" fill="#22F0E2"/>
<circle cx="801.7" cy="158.4" r="1.0" fill="#FFFFFF"/>
<circle cx="809.2" cy="167.5" r="0.9" fill="#22F0E2"/>
<circle cx="815.2" cy="176.5" r="0.9" fill="#22F0E2"/>
<circle cx="815.4" cy="169.6" r="1.25" fill="#22F0E2"/>
<circle cx="817.9" cy="164.1" r="0.8" fill="#8CF6E6"/>
<circle cx="803.6" cy="163.9" r="1.0" fill="#22F0E2"/>
<circle cx="813.3" cy="164.0" r="0.8" fill="#FFFFFF"/>
<circle cx="813.6" cy="172.8" r="1.25" fill="#FFFFFF"/>
<circle cx="805.7" cy="209.3" r="1.0" fill="#22F0E2"/>
<circle cx="799.2" cy="204.5" r="1.0" fill="#FFFFFF"/>
<circle cx="799.0" cy="201.7" r="0.8" fill="#3D9BFF"/>
<circle cx="805.2" cy="207.6" r="1.1" fill="#8CF6E6"/>
<circle cx="810.1" cy="201.4" r="1.1" fill="#22F0E2"/>
<circle cx="805.7" cy="198.2" r="1.1" fill="#22F0E2"/>
<circle cx="799.3" cy="204.9" r="0.8" fill="#8CF6E6"/>
<circle cx="802.0" cy="208.3" r="1.0" fill="#3D9BFF"/>
<circle cx="795.1" cy="206.5" r="1.0" fill="#22F0E2"/>
<circle cx="800.2" cy="197.9" r="0.8" fill="#22F0E2"/>
<circle cx="802.0" cy="206.6" r="0.8" fill="#22F0E2"/>
<circle cx="798.4" cy="206.0" r="1.1" fill="#8CF6E6"/>
<circle cx="796.2" cy="199.6" r="1.1" fill="#22F0E2"/>
<circle cx="806.2" cy="206.3" r="0.9" fill="#3D9BFF"/>
<circle cx="797.6" cy="201.2" r="0.9" fill="#FFFFFF"/>
<circle cx="806.0" cy="204.0" r="0.8" fill="#22F0E2"/>
<circle cx="800.5" cy="205.3" r="0.8" fill="#FFFFFF"/>
<circle cx="798.2" cy="203.9" r="1.1" fill="#FFFFFF"/>
<circle cx="802.4" cy="205.1" r="0.9" fill="#8CF6E6"/>
<circle cx="796.3" cy="205.4" r="1.1" fill="#F4E6F0"/>
<circle cx="805.5" cy="203.4" r="1.0" fill="#22F0E2"/>
<circle cx="796.0" cy="198.4" r="0.8" fill="#22F0E2"/>
<circle cx="797.5" cy="206.2" r="1.1" fill="#22F0E2"/>
<circle cx="796.5" cy="202.0" r="1.0" fill="#22F0E2"/>
<circle cx="803.4" cy="198.1" r="0.9" fill="#22F0E2"/>
<circle cx="801.2" cy="194.4" r="1.25" fill="#22F0E2"/>
<circle cx="796.1" cy="206.8" r="0.9" fill="#F4E6F0"/>
<circle cx="796.3" cy="191.5" r="1.25" fill="#8CF6E6"/>
<circle cx="796.5" cy="194.0" r="1.25" fill="#22F0E2"/>
<circle cx="797.5" cy="201.1" r="0.8" fill="#22F0E2"/>
<circle cx="800.2" cy="208.2" r="1.0" fill="#22F0E2"/>
<circle cx="809.4" cy="207.4" r="1.0" fill="#FFFFFF"/>
<circle cx="804.5" cy="200.1" r="0.9" fill="#22F0E2"/>
<circle cx="805.7" cy="200.2" r="1.25" fill="#22F0E2"/>
<circle cx="796.0" cy="201.8" r="1.0" fill="#F4E6F0"/>
<circle cx="807.8" cy="210.4" r="0.8" fill="#22F0E2"/>
<circle cx="797.9" cy="199.5" r="1.25" fill="#22F0E2"/>
<circle cx="801.7" cy="200.8" r="1.25" fill="#22F0E2"/>
<circle cx="794.6" cy="204.2" r="0.9" fill="#22F0E2"/>
<circle cx="800.4" cy="195.3" r="1.1" fill="#F4E6F0"/>
<circle cx="795.9" cy="185.1" r="0.8" fill="#22F0E2"/>
<circle cx="807.1" cy="195.3" r="0.9" fill="#FFFFFF"/>
<circle cx="799.1" cy="194.3" r="0.9" fill="#22F0E2"/>
<circle cx="800.3" cy="189.5" r="1.25" fill="#22F0E2"/>
<circle cx="814.9" cy="192.9" r="0.9" fill="#FFFFFF"/>
<circle cx="812.9" cy="188.3" r="1.1" fill="#22F0E2"/>
<circle cx="797.9" cy="193.7" r="1.25" fill="#FFFFFF"/>
<circle cx="805.1" cy="184.2" r="1.1" fill="#8CF6E6"/>
<circle cx="799.6" cy="192.9" r="1.25" fill="#22F0E2"/>
<circle cx="811.1" cy="186.6" r="1.25" fill="#FFFFFF"/>
<circle cx="793.2" cy="194.5" r="1.0" fill="#22F0E2"/>
<circle cx="802.6" cy="196.6" r="1.1" fill="#8CF6E6"/>
<circle cx="801.2" cy="193.1" r="1.0" fill="#F4E6F0"/>
<circle cx="808.2" cy="187.4" r="1.1" fill="#22F0E2"/>
<circle cx="799.0" cy="189.9" r="0.8" fill="#FFFFFF"/>
<circle cx="802.5" cy="184.3" r="0.9" fill="#FFFFFF"/>
<circle cx="802.9" cy="194.7" r="0.9" fill="#22F0E2"/>
<circle cx="814.7" cy="190.0" r="1.0" fill="#FFFFFF"/>
<circle cx="795.4" cy="194.3" r="0.9" fill="#3D9BFF"/>
<circle cx="804.8" cy="183.5" r="0.8" fill="#22F0E2"/>
<circle cx="801.9" cy="189.7" r="1.25" fill="#F4E6F0"/>
<circle cx="805.2" cy="189.9" r="0.9" fill="#8CF6E6"/>
<circle cx="803.4" cy="194.2" r="0.8" fill="#FFFFFF"/>
<circle cx="813.7" cy="184.4" r="1.1" fill="#22F0E2"/>
<circle cx="800.1" cy="195.2" r="0.8" fill="#22F0E2"/>
<circle cx="817.6" cy="192.1" r="1.0" fill="#22F0E2"/>
<circle cx="791.0" cy="190.1" r="1.1" fill="#22F0E2"/>
<circle cx="808.5" cy="199.5" r="0.8" fill="#22F0E2"/>
<circle cx="800.2" cy="199.1" r="1.1" fill="#22F0E2"/>
<circle cx="810.8" cy="199.1" r="1.25" fill="#22F0E2"/>
<circle cx="785.7" cy="197.2" r="0.8" fill="#3D9BFF"/>
<circle cx="797.6" cy="203.0" r="1.0" fill="#22F0E2"/>
<circle cx="796.5" cy="192.2" r="0.9" fill="#22F0E2"/>
<circle cx="785.3" cy="186.9" r="1.1" fill="#FFFFFF"/>
<circle cx="793.8" cy="199.7" r="1.0" fill="#22F0E2"/>
<circle cx="789.0" cy="194.8" r="0.9" fill="#8CF6E6"/>
<circle cx="790.8" cy="205.4" r="1.0" fill="#22F0E2"/>
<circle cx="792.4" cy="192.2" r="0.8" fill="#F4E6F0"/>
<circle cx="773.6" cy="196.6" r="0.9" fill="#3D9BFF"/>
<circle cx="790.5" cy="200.6" r="0.8" fill="#FFFFFF"/>
<circle cx="796.4" cy="197.4" r="1.25" fill="#22F0E2"/>
<circle cx="788.2" cy="197.7" r="1.25" fill="#F4E6F0"/>
<circle cx="789.0" cy="201.7" r="1.25" fill="#22F0E2"/>
<circle cx="799.2" cy="210.8" r="0.9" fill="#22F0E2"/>
<circle cx="794.2" cy="205.3" r="0.8" fill="#22F0E2"/>
<circle cx="790.9" cy="195.2" r="0.8" fill="#F4E6F0"/>
<circle cx="780.3" cy="200.0" r="1.1" fill="#22F0E2"/>
<circle cx="796.4" cy="195.5" r="0.9" fill="#22F0E2"/>
<circle cx="781.9" cy="195.5" r="1.0" fill="#22F0E2"/>
<circle cx="784.3" cy="190.7" r="1.25" fill="#22F0E2"/>
<circle cx="778.4" cy="197.7" r="1.25" fill="#8CF6E6"/>
<circle cx="793.5" cy="197.1" r="0.9" fill="#22F0E2"/>
<circle cx="777.1" cy="202.7" r="1.1" fill="#FFFFFF"/>
<circle cx="781.3" cy="196.3" r="0.9" fill="#22F0E2"/>
<circle cx="776.5" cy="205.2" r="1.25" fill="#F4E6F0"/>
<circle cx="778.7" cy="205.0" r="1.25" fill="#8CF6E6"/>
<circle cx="785.2" cy="206.8" r="0.9" fill="#22F0E2"/>
<circle cx="780.5" cy="205.8" r="1.1" fill="#FFFFFF"/>
<circle cx="772.0" cy="204.8" r="0.8" fill="#22F0E2"/>
<circle cx="782.4" cy="207.1" r="1.25" fill="#F4E6F0"/>
<circle cx="781.0" cy="201.4" r="0.9" fill="#22F0E2"/>
<circle cx="779.5" cy="206.4" r="1.0" fill="#F4E6F0"/>
<circle cx="779.4" cy="196.3" r="1.25" fill="#FFFFFF"/>
<circle cx="787.9" cy="209.9" r="0.9" fill="#FFFFFF"/>
<circle cx="779.9" cy="207.9" r="1.25" fill="#FFFFFF"/>
<circle cx="784.8" cy="206.9" r="1.0" fill="#8CF6E6"/>
<circle cx="774.2" cy="221.4" r="0.8" fill="#22F0E2"/>
<circle cx="765.2" cy="211.4" r="0.9" fill="#22F0E2"/>
<circle cx="771.8" cy="206.1" r="0.8" fill="#22F0E2"/>
<circle cx="772.5" cy="219.4" r="0.9" fill="#22F0E2"/>
<circle cx="769.4" cy="213.1" r="1.1" fill="#22F0E2"/>
<circle cx="777.9" cy="209.9" r="1.25" fill="#22F0E2"/>
<circle cx="771.4" cy="212.9" r="0.9" fill="#FFFFFF"/>
<circle cx="763.0" cy="213.2" r="1.0" fill="#22F0E2"/>
<circle cx="766.1" cy="220.6" r="1.25" fill="#22F0E2"/>
<circle cx="775.9" cy="212.0" r="0.8" fill="#8CF6E6"/>
<circle cx="786.2" cy="241.6" r="1.25" fill="#22F0E2"/>
<circle cx="785.6" cy="238.7" r="0.9" fill="#FFFFFF"/>
<circle cx="789.0" cy="238.6" r="1.1" fill="#22F0E2"/>
<circle cx="790.2" cy="243.0" r="0.9" fill="#FFFFFF"/>
<circle cx="790.9" cy="239.9" r="1.1" fill="#22F0E2"/>
<circle cx="784.9" cy="238.6" r="0.9" fill="#FFFFFF"/>
<circle cx="791.2" cy="240.6" r="0.8" fill="#22F0E2"/>
<circle cx="788.5" cy="235.5" r="1.0" fill="#F4E6F0"/>
<circle cx="792.8" cy="238.2" r="1.0" fill="#FFFFFF"/>
<circle cx="782.0" cy="242.0" r="0.9" fill="#22F0E2"/>
<circle cx="791.2" cy="238.6" r="1.0" fill="#22F0E2"/>
<circle cx="790.7" cy="233.5" r="0.8" fill="#22F0E2"/>
<circle cx="798.6" cy="237.9" r="1.1" fill="#22F0E2"/>
<circle cx="792.7" cy="235.8" r="1.0" fill="#FFFFFF"/>
<circle cx="788.1" cy="235.9" r="1.25" fill="#22F0E2"/>
<circle cx="787.1" cy="238.1" r="1.25" fill="#F4E6F0"/>
<circle cx="792.1" cy="239.4" r="1.1" fill="#FFFFFF"/>
<circle cx="783.1" cy="238.6" r="1.25" fill="#8CF6E6"/>
<circle cx="786.3" cy="237.3" r="1.1" fill="#3D9BFF"/>
<circle cx="783.4" cy="242.0" r="1.0" fill="#FFFFFF"/>
<circle cx="788.9" cy="235.2" r="1.1" fill="#FFFFFF"/>
<circle cx="792.1" cy="236.5" r="1.0" fill="#22F0E2"/>
<circle cx="791.8" cy="226.0" r="0.8" fill="#22F0E2"/>
<circle cx="792.9" cy="214.0" r="0.8" fill="#8CF6E6"/>
<circle cx="791.7" cy="232.0" r="0.9" fill="#FFFFFF"/>
<circle cx="791.3" cy="212.4" r="1.0" fill="#22F0E2"/>
<circle cx="793.5" cy="216.7" r="1.1" fill="#22F0E2"/>
<circle cx="792.2" cy="223.5" r="1.1" fill="#22F0E2"/>
<circle cx="792.0" cy="232.7" r="0.9" fill="#22F0E2"/>
<circle cx="794.8" cy="219.9" r="0.9" fill="#22F0E2"/>
<circle cx="810.5" cy="201.2" r="0.8" fill="#8CF6E6"/>
<circle cx="809.7" cy="210.3" r="0.9" fill="#FFFFFF"/>
<circle cx="806.6" cy="200.4" r="1.25" fill="#22F0E2"/>
<circle cx="811.7" cy="203.8" r="1.1" fill="#22F0E2"/>
<circle cx="811.1" cy="206.6" r="1.1" fill="#22F0E2"/>
<circle cx="816.4" cy="207.4" r="1.25" fill="#22F0E2"/>
<circle cx="808.5" cy="206.0" r="1.0" fill="#22F0E2"/>
<circle cx="815.7" cy="205.8" r="1.0" fill="#F4E6F0"/>
<circle cx="809.8" cy="215.5" r="0.9" fill="#3D9BFF"/>
<circle cx="806.6" cy="206.6" r="1.0" fill="#22F0E2"/>
<circle cx="803.5" cy="198.4" r="0.8" fill="#3D9BFF"/>
<circle cx="816.8" cy="207.2" r="1.25" fill="#FFFFFF"/>
<circle cx="761.0" cy="203.3" r="1.1" fill="#FFFFFF"/>
<circle cx="755.2" cy="206.0" r="0.8" fill="#22F0E2"/>
<circle cx="759.0" cy="201.5" r="1.1" fill="#22F0E2"/>
<circle cx="759.4" cy="203.1" r="1.25" fill="#22F0E2"/>
<circle cx="767.7" cy="219.7" r="1.5" fill="#D4F4C0"/>
</g>
<text x="889" y="80.9" font-size="9.4" fill="#C4D0DC">实时电耗</text>
<rect x="882" y="85.2" width="108.2" height="26.5" fill="#123554"/>
<text transform="translate(969.8,106.2) scale(0.92,1)" font-size="22" fill="#F0F6FA" text-anchor="end">208788</text>
<text x="971.5" y="107.2" font-size="7.3" fill="#17AECA">kWh</text>
<text x="889" y="129.2" font-size="9.4" fill="#C4D0DC">实时水耗</text>
<rect x="882" y="133.5" width="108.2" height="26.5" fill="#123554"/>
<text transform="translate(969.8,154.5) scale(0.92,1)" font-size="22" fill="#F0F6FA" text-anchor="end">3176</text>
<text x="971.5" y="155.5" font-size="7.3" fill="#17AECA">t</text>
<text x="889" y="177.9" font-size="9.4" fill="#C4D0DC">实时气耗</text>
<rect x="882" y="182.2" width="108.2" height="26.5" fill="#123554"/>
<text transform="translate(969.8,203.2) scale(0.92,1)" font-size="22" fill="#F0F6FA" text-anchor="end">71678</text>
<text x="971.5" y="204.2" font-size="7.3" fill="#17AECA">m³</text>
<text x="889" y="229.0" font-size="9.4" fill="#C4D0DC">实时汽耗</text>
<rect x="882" y="233.3" width="108.2" height="26.5" fill="#0F2F4C"/>
<text transform="translate(969.8,254.3) scale(0.92,1)" font-size="22" fill="#F0F6FA" text-anchor="end">0</text>
<text x="971.5" y="255.3" font-size="7.3" fill="#17AECA">GJ</text>
<rect x="690.5" y="272" width="311.5" height="99" fill="#021F34" filter="url(#pb)"/>
<text x="826.5" y="289.5" font-size="8.7" fill="#E8F0F6" font-weight="500">武汉园区</text>
<path d="M873.5,284.2 L880,284.2 L876.75,288.8 Z" fill="#FFFFFF"/>
<text x="707.0" y="300.59999999999997" font-size="6.2" fill="#94A6B6" text-anchor="middle">电</text>
<path d="M715.5,300.5 L720,303.5 L723,309 L725,314.5 L726.5,315.5 L728.5,310 L731,302 L734,299.3 L740,299 L747,300.5 L751,304.5 L755,311 L758,315.5 L761,313 L764,306.5 L767,301 L769.5,298.4 L769.5,323 L715.5,323 Z" fill="url(#areaG)"/>
<path d="M715.5,300.5 L720,303.5 L723,309 L725,314.5 L726.5,315.5 L728.5,310 L731,302 L734,299.3 L740,299 L747,300.5 L751,304.5 L755,311 L758,315.5 L761,313 L764,306.5 L767,301 L769.5,298.4" fill="none" stroke="#1FD6D0" stroke-width="0.9" stroke-linejoin="round"/>
<path d="M715.5,295.4 L715.5,323 L769.5,323" fill="none" stroke="#8498A8" stroke-width="0.7"/>
<text x="779" y="299.9" font-size="3.9" fill="#C8D4DE">去年同期</text>
<rect x="797.3" y="297.2" width="21" height="2.4" rx="0.6" fill="#EAF4FA"/>
<text x="779" y="306.5" font-size="3.9" fill="#C8D4DE">本年累计</text>
<rect x="797.3" y="303.8" width="18.5" height="2.4" rx="0.6" fill="#F2C21E"/>
<text x="779" y="318.5" font-size="3.9" fill="#C8D4DE">上月同期</text>
<rect x="797.3" y="315.8" width="21" height="2.4" rx="0.6" fill="#F0506A"/>
<text x="779" y="324.5" font-size="3.9" fill="#C8D4DE">本月累计</text>
<rect x="797.3" y="321.8" width="18.5" height="2.4" rx="0.6" fill="#12C4DC"/>
<text x="707.0" y="341.7" font-size="6.2" fill="#94A6B6" text-anchor="middle">气</text>
<path d="M715.5,364 L769.5,364" stroke="#16B8C0" stroke-width="1" stroke-dasharray="1.6 1.8"/>
<path d="M715.5,336.5 L715.5,364 L769.5,364" fill="none" stroke="#8498A8" stroke-width="0.7"/>
<text x="779" y="341.0" font-size="3.9" fill="#C8D4DE">去年同期</text>
<rect x="797.3" y="338.3" width="21" height="2.4" rx="0.6" fill="#EAF4FA"/>
<text x="779" y="347.6" font-size="3.9" fill="#C8D4DE">本年累计</text>
<text x="779" y="359.6" font-size="3.9" fill="#C8D4DE">上月同期</text>
<rect x="797.3" y="356.9" width="21" height="2.4" rx="0.6" fill="#F0506A"/>
<text x="779" y="365.6" font-size="3.9" fill="#C8D4DE">本月累计</text>
<text x="862.1" y="300.59999999999997" font-size="6.2" fill="#94A6B6" text-anchor="middle">水</text>
<path d="M870.6,302 L874.5,305 L878.4,308.6 L881.4,311 L883,308 L885,303.5 L889.5,299.8 L895.5,300.2 L900,299.6 L904.5,302 L908,306 L911,310.5 L914.3,312.5 L918,308 L922.4,302 L924.5,299 L924.5,323 L870.6,323 Z" fill="url(#areaG)"/>
<path d="M870.6,302 L874.5,305 L878.4,308.6 L881.4,311 L883,308 L885,303.5 L889.5,299.8 L895.5,300.2 L900,299.6 L904.5,302 L908,306 L911,310.5 L914.3,312.5 L918,308 L922.4,302 L924.5,299" fill="none" stroke="#1FD6D0" stroke-width="0.9" stroke-linejoin="round"/>
<path d="M870.6,295.4 L870.6,323 L924.6,323" fill="none" stroke="#8498A8" stroke-width="0.7"/>
<text x="934.4" y="299.9" font-size="3.9" fill="#C8D4DE">去年同期</text>
<rect x="952.6999999999999" y="297.2" width="21" height="2.4" rx="0.6" fill="#EAF4FA"/>
<text x="934.4" y="306.5" font-size="3.9" fill="#C8D4DE">本年累计</text>
<rect x="952.6999999999999" y="303.8" width="18.5" height="2.4" rx="0.6" fill="#F2C21E"/>
<text x="934.4" y="318.5" font-size="3.9" fill="#C8D4DE">上月同期</text>
<rect x="952.6999999999999" y="315.8" width="21" height="2.4" rx="0.6" fill="#F0506A"/>
<text x="934.4" y="324.5" font-size="3.9" fill="#C8D4DE">本月累计</text>
<rect x="952.6999999999999" y="321.8" width="18.5" height="2.4" rx="0.6" fill="#12C4DC"/>
<text x="862.1" y="341.7" font-size="6.2" fill="#94A6B6" text-anchor="middle">汽</text>
<path d="M870.6,364 L924.6,364" stroke="#16B8C0" stroke-width="1" stroke-dasharray="1.6 1.8"/>
<path d="M870.6,336.5 L870.6,364 L924.6,364" fill="none" stroke="#8498A8" stroke-width="0.7"/>
<text x="934.4" y="341.0" font-size="3.9" fill="#C8D4DE">去年同期</text>
<text x="934.4" y="347.6" font-size="3.9" fill="#C8D4DE">本年累计</text>
<text x="934.4" y="359.6" font-size="3.9" fill="#C8D4DE">上月同期</text>
<text x="934.4" y="365.6" font-size="3.9" fill="#C8D4DE">本月累计</text>
<text x="1098" y="61.8" font-size="8.4" fill="#1FCDE2" font-weight="700">五月万元产值能耗</text>
<ellipse cx="1078" cy="58.7" rx="7" ry="6" fill="#0F78A8" opacity="0.5" filter="url(#glow)"/>
<path d="M1081,54.6 L1075.6,58.7 L1081,62.8" stroke="#1FAEC6" stroke-width="2.2" fill="none" opacity="0.75" filter="url(#soft)"/>
<rect x="1003" y="70" width="165.5" height="171" fill="#021F34" filter="url(#pb)"/>
<text x="1020.7" y="82.30" font-size="4.6" fill="#E0E8F0" text-anchor="end" font-weight="700">210</text>
<path d="M1022.5,80.70 L1156.3,80.70" stroke="#3A5468" stroke-width="0.6"/>
<text x="1020.7" y="88.01" font-size="4.6" fill="#E0E8F0" text-anchor="end" font-weight="700">180</text>
<path d="M1022.5,86.41 L1156.3,86.41" stroke="#3A5468" stroke-width="0.6"/>
<text x="1020.7" y="93.73" font-size="4.6" fill="#E0E8F0" text-anchor="end" font-weight="700">150</text>
<path d="M1022.5,92.13 L1156.3,92.13" stroke="#3A5468" stroke-width="0.6"/>
<text x="1020.7" y="99.44" font-size="4.6" fill="#E0E8F0" text-anchor="end" font-weight="700">120</text>
<path d="M1022.5,97.84 L1156.3,97.84" stroke="#3A5468" stroke-width="0.6"/>
<text x="1020.7" y="105.16" font-size="4.6" fill="#E0E8F0" text-anchor="end" font-weight="700">90</text>
<path d="M1022.5,103.56 L1156.3,103.56" stroke="#3A5468" stroke-width="0.6"/>
<text x="1020.7" y="110.87" font-size="4.6" fill="#E0E8F0" text-anchor="end" font-weight="700">60</text>
<path d="M1022.5,109.27 L1156.3,109.27" stroke="#3A5468" stroke-width="0.6"/>
<text x="1020.7" y="116.58" font-size="4.6" fill="#E0E8F0" text-anchor="end" font-weight="700">30</text>
<path d="M1022.5,114.98 L1156.3,114.98" stroke="#3A5468" stroke-width="0.6"/>
<text x="1020.7" y="122.30" font-size="4.6" fill="#E0E8F0" text-anchor="end" font-weight="700">0</text>
<path d="M1022.5,120.70 L1156.3,120.70" stroke="#3A5468" stroke-width="0.6"/>
<rect x="1024.90" y="108.30" width="5" height="12.4" fill="url(#barG)"/>
<text transform="translate(1026.60,124.8) rotate(45)" font-size="4.1" fill="#B4C8D8" font-weight="700">青岛园区</text>
<rect x="1034.52" y="107.90" width="5" height="12.8" fill="url(#barG)"/>
<text transform="translate(1036.22,124.8) rotate(45)" font-size="4.1" fill="#B4C8D8" font-weight="700">开发区园区</text>
<rect x="1044.15" y="113.50" width="5" height="7.2" fill="url(#barG)"/>
<text transform="translate(1045.85,124.8) rotate(45)" font-size="4.1" fill="#B4C8D8" font-weight="700">胶南园区</text>
<rect x="1053.77" y="88.10" width="5" height="32.6" fill="url(#barG)"/>
<text transform="translate(1055.47,124.8) rotate(45)" font-size="4.1" fill="#B4C8D8" font-weight="700">胶州园区</text>
<rect x="1063.39" y="105.40" width="5" height="15.3" fill="url(#barG)"/>
<text transform="translate(1065.09,124.8) rotate(45)" font-size="4.1" fill="#B4C8D8" font-weight="700">黄岛园区</text>
<rect x="1073.02" y="103.40" width="5" height="17.3" fill="url(#barG)"/>
<text transform="translate(1074.72,124.8) rotate(45)" font-size="4.1" fill="#B4C8D8" font-weight="700">大连园区</text>
<rect x="1082.64" y="108.30" width="5" height="12.4" fill="url(#barG)"/>
<text transform="translate(1084.34,124.8) rotate(45)" font-size="4.1" fill="#B4C8D8" font-weight="700">武汉园区</text>
<rect x="1092.26" y="109.50" width="5" height="11.2" fill="url(#barG)"/>
<text transform="translate(1093.96,124.8) rotate(45)" font-size="4.1" fill="#B4C8D8" font-weight="700">合肥园区</text>
<rect x="1101.88" y="82.50" width="5" height="38.2" fill="url(#barG)"/>
<text transform="translate(1103.58,124.8) rotate(45)" font-size="4.1" fill="#B4C8D8" font-weight="700">重庆园区</text>
<rect x="1111.51" y="104.50" width="5" height="16.2" fill="url(#barG)"/>
<text transform="translate(1113.21,124.8) rotate(45)" font-size="4.1" fill="#B4C8D8" font-weight="700">沈阳园区</text>
<rect x="1121.13" y="112.80" width="5" height="7.9" fill="url(#barG)"/>
<text transform="translate(1122.83,124.8) rotate(45)" font-size="4.1" fill="#B4C8D8" font-weight="700">佛山园区</text>
<rect x="1130.75" y="115.10" width="5" height="5.6" fill="url(#barG)"/>
<text transform="translate(1132.45,124.8) rotate(45)" font-size="4.1" fill="#B4C8D8" font-weight="700">胶州波轮园区</text>
<rect x="1140.38" y="114.60" width="5" height="6.1" fill="url(#barG)"/>
<text transform="translate(1142.08,124.8) rotate(45)" font-size="4.1" fill="#B4C8D8" font-weight="700">胶州空调园区</text>
<rect x="1150.00" y="106.50" width="5" height="14.2" fill="url(#barG)"/>
<text transform="translate(1151.70,124.8) rotate(45)" font-size="4.1" fill="#B4C8D8" font-weight="700">遵义园区</text>
<path d="M1086.70,164.50 A26.4,26.4 0 1 1 1060.68,186.43" fill="none" stroke="#19B2D2" stroke-width="6"/>
<path d="M1060.68,186.43 A26.4,26.4 0 0 1 1062.36,180.67" fill="none" stroke="#2EE6CC" stroke-width="6"/>
<path d="M1062.36,180.67 A26.4,26.4 0 0 1 1064.33,176.88" fill="none" stroke="#F04860" stroke-width="6"/>
<path d="M1064.33,176.88 A26.4,26.4 0 0 1 1086.70,164.50" fill="none" stroke="#F6BE2A" stroke-width="6"/>
<path d="M1064.03,187.00 L1057.13,185.82" stroke="#021F34" stroke-width="0.8"/>
<path d="M1065.50,181.99 L1059.04,179.28" stroke="#021F34" stroke-width="0.8"/>
<path d="M1067.21,178.69 L1061.28,174.97" stroke="#021F34" stroke-width="0.8"/>
<path d="M1086.70,167.90 L1086.70,160.90" stroke="#021F34" stroke-width="0.8"/>
<g font-size="4.2" fill="#E6EEF4">
<text x="1035.8" y="160.8">气耗: 16.09%</text>
<text x="1026" y="175.9">汽耗: 2.58%</text>
<text x="1026" y="182.2">水耗: 3.62%</text>
<text x="1115.5" y="219.4">电耗: 77.71%</text>
</g>
<path d="M1061,159.3 L1067.5,160.6 L1070.5,163.5" stroke="#F6BE2A" stroke-width="0.6" fill="none"/>
<path d="M1050.5,174.4 L1056,174.8 L1060,177.5" stroke="#F04860" stroke-width="0.6" fill="none"/>
<path d="M1046.5,180.7 L1053,180.7 L1058,183" stroke="#2EE6CC" stroke-width="0.6" fill="none"/>
<path d="M1107,213.5 L1111,217.7 L1114.5,217.7" stroke="#17B4DA" stroke-width="0.6" fill="none"/>
<rect x="1001.7" y="243.5" width="166.8" height="131.2" fill="#022036" filter="url(#pb)"/>
<text x="1054.2" y="256.3" font-size="9" fill="#F0F6FA" font-weight="500">单台能耗：电厨</text>
<path d="M1122.8,250.8 L1129.2,250.8 L1126,255.2 Z" fill="#FFFFFF"/>
<path d="M1085.7,311.7 L1085.70,272.90" stroke="#5A7082" stroke-width="0.6"/>
<path d="M1085.7,311.7 L1122.60,299.71" stroke="#5A7082" stroke-width="0.6"/>
<path d="M1085.7,311.7 L1108.51,343.09" stroke="#5A7082" stroke-width="0.6"/>
<path d="M1085.7,311.7 L1062.89,343.09" stroke="#5A7082" stroke-width="0.6"/>
<path d="M1085.7,311.7 L1048.80,299.71" stroke="#5A7082" stroke-width="0.6"/>
<polygon points="1085.7,302.97 1095.66,308.46 1109.42,344.35 1073.84,328.02 1058.39,302.83" fill="#149AA6" stroke="#19B8BE" stroke-width="0.6"/>
<circle cx="1085.7" cy="311.7" r="38.8" fill="none" stroke="#16B8B4" stroke-width="1.2"/>
<g font-size="3.8" fill="#E6EEF4" text-anchor="middle">
<text x="1085.7" y="268.8">开发区洗碗机</text>
<text x="1138.2" y="303.8">重庆热水器</text>
<text x="1121.7" y="353.5">武汉热水器</text>
<text x="1049" y="353.5">胶南热水器</text>
<text x="1031.5" y="303.8">开发区电热</text>
</g>
</svg>
</body></html>
